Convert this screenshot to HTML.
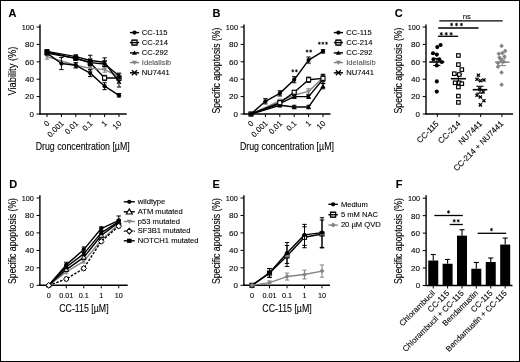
<!DOCTYPE html>
<html><head><meta charset="utf-8"><style>
html,body{margin:0;padding:0;background:#fff;overflow:hidden;}
svg{display:block;font-family:"Liberation Sans", sans-serif;filter:blur(0.3px);}
text{stroke:currentColor;stroke-width:0.1px;}
</style></head><body>
<svg width="520" height="362" viewBox="0 0 520 362">
<rect width="520" height="362" fill="#fff"/>
<rect x="0.5" y="0.5" width="519" height="361" fill="none" stroke="#000" stroke-width="1"/>
<text x="8.60" y="16.70" font-size="11" text-anchor="start" fill="#000" color="#000" font-weight="bold">A</text>
<line x1="40.00" y1="24.50" x2="40.00" y2="114.60" stroke="#000" stroke-width="1.4"/>
<line x1="36.60" y1="114.00" x2="40.00" y2="114.00" stroke="#000" stroke-width="1"/>
<text x="34.00" y="116.85" font-size="7.9" text-anchor="end" fill="#000" color="#000" textLength="4.4" lengthAdjust="spacingAndGlyphs">0</text>
<line x1="36.60" y1="96.60" x2="40.00" y2="96.60" stroke="#000" stroke-width="1"/>
<text x="34.00" y="99.45" font-size="7.9" text-anchor="end" fill="#000" color="#000" textLength="9.0" lengthAdjust="spacingAndGlyphs">20</text>
<line x1="36.60" y1="79.20" x2="40.00" y2="79.20" stroke="#000" stroke-width="1"/>
<text x="34.00" y="82.05" font-size="7.9" text-anchor="end" fill="#000" color="#000" textLength="9.0" lengthAdjust="spacingAndGlyphs">40</text>
<line x1="36.60" y1="61.80" x2="40.00" y2="61.80" stroke="#000" stroke-width="1"/>
<text x="34.00" y="64.65" font-size="7.9" text-anchor="end" fill="#000" color="#000" textLength="9.0" lengthAdjust="spacingAndGlyphs">60</text>
<line x1="36.60" y1="44.40" x2="40.00" y2="44.40" stroke="#000" stroke-width="1"/>
<text x="34.00" y="47.25" font-size="7.9" text-anchor="end" fill="#000" color="#000" textLength="9.0" lengthAdjust="spacingAndGlyphs">80</text>
<line x1="36.60" y1="27.00" x2="40.00" y2="27.00" stroke="#000" stroke-width="1"/>
<text x="34.00" y="29.85" font-size="7.9" text-anchor="end" fill="#000" color="#000" textLength="12.2" lengthAdjust="spacingAndGlyphs">100</text>
<line x1="39.40" y1="114.00" x2="126.70" y2="114.00" stroke="#000" stroke-width="1.4"/>
<line x1="47.00" y1="114.00" x2="47.00" y2="117.00" stroke="#000" stroke-width="1"/>
<line x1="61.40" y1="114.00" x2="61.40" y2="117.00" stroke="#000" stroke-width="1"/>
<line x1="75.80" y1="114.00" x2="75.80" y2="117.00" stroke="#000" stroke-width="1"/>
<line x1="90.20" y1="114.00" x2="90.20" y2="117.00" stroke="#000" stroke-width="1"/>
<line x1="104.60" y1="114.00" x2="104.60" y2="117.00" stroke="#000" stroke-width="1"/>
<line x1="119.00" y1="114.00" x2="119.00" y2="117.00" stroke="#000" stroke-width="1"/>
<text x="50.00" y="123.80" font-size="7.9" text-anchor="end" fill="#000" color="#000" transform="rotate(-45 50.00 123.80)">0</text>
<text x="64.40" y="123.80" font-size="7.9" text-anchor="end" fill="#000" color="#000" transform="rotate(-45 64.40 123.80)">0.001</text>
<text x="78.80" y="123.80" font-size="7.9" text-anchor="end" fill="#000" color="#000" transform="rotate(-45 78.80 123.80)">0.01</text>
<text x="93.20" y="123.80" font-size="7.9" text-anchor="end" fill="#000" color="#000" transform="rotate(-45 93.20 123.80)">0.1</text>
<text x="107.60" y="123.80" font-size="7.9" text-anchor="end" fill="#000" color="#000" transform="rotate(-45 107.60 123.80)">1</text>
<text x="122.00" y="123.80" font-size="7.9" text-anchor="end" fill="#000" color="#000" transform="rotate(-45 122.00 123.80)">10</text>
<text x="82.70" y="149.70" font-size="10.3" text-anchor="middle" fill="#000" color="#000" textLength="94.0" lengthAdjust="spacingAndGlyphs">Drug concentration [µM]</text>
<text x="15.80" y="71.10" font-size="10" text-anchor="middle" fill="#000" color="#000" transform="rotate(-90 15.80 71.10)" textLength="49" lengthAdjust="spacingAndGlyphs">Viability (%)</text>
<polyline points="47.00,52.23 75.80,58.32 90.20,62.67 104.60,77.98 119.00,77.98" fill="none" stroke="#000" stroke-width="1.4" stroke-linejoin="round"/>
<line x1="47.00" y1="50.49" x2="47.00" y2="53.97" stroke="#000" stroke-width="1"/>
<line x1="44.80" y1="50.49" x2="49.20" y2="50.49" stroke="#000" stroke-width="1"/>
<line x1="44.80" y1="53.97" x2="49.20" y2="53.97" stroke="#000" stroke-width="1"/>
<line x1="75.80" y1="56.58" x2="75.80" y2="60.06" stroke="#000" stroke-width="1"/>
<line x1="73.60" y1="56.58" x2="78.00" y2="56.58" stroke="#000" stroke-width="1"/>
<line x1="73.60" y1="60.06" x2="78.00" y2="60.06" stroke="#000" stroke-width="1"/>
<line x1="90.20" y1="60.06" x2="90.20" y2="65.28" stroke="#000" stroke-width="1"/>
<line x1="88.00" y1="60.06" x2="92.40" y2="60.06" stroke="#000" stroke-width="1"/>
<line x1="88.00" y1="65.28" x2="92.40" y2="65.28" stroke="#000" stroke-width="1"/>
<line x1="104.60" y1="75.37" x2="104.60" y2="80.59" stroke="#000" stroke-width="1"/>
<line x1="102.40" y1="75.37" x2="106.80" y2="75.37" stroke="#000" stroke-width="1"/>
<line x1="102.40" y1="80.59" x2="106.80" y2="80.59" stroke="#000" stroke-width="1"/>
<line x1="119.00" y1="75.37" x2="119.00" y2="80.59" stroke="#000" stroke-width="1"/>
<line x1="116.80" y1="75.37" x2="121.20" y2="75.37" stroke="#000" stroke-width="1"/>
<line x1="116.80" y1="80.59" x2="121.20" y2="80.59" stroke="#000" stroke-width="1"/>
<rect x="44.98" y="50.21" width="4.05" height="4.05" fill="#fff" stroke="#000" stroke-width="1.1"/>
<rect x="73.78" y="56.30" width="4.05" height="4.05" fill="#fff" stroke="#000" stroke-width="1.1"/>
<rect x="88.18" y="60.65" width="4.05" height="4.05" fill="#fff" stroke="#000" stroke-width="1.1"/>
<rect x="102.58" y="75.96" width="4.05" height="4.05" fill="#fff" stroke="#000" stroke-width="1.1"/>
<rect x="116.98" y="75.96" width="4.05" height="4.05" fill="#fff" stroke="#000" stroke-width="1.1"/>
<polyline points="47.00,56.58 75.80,65.28 90.20,68.33 104.60,69.63 119.00,76.59" fill="none" stroke="#848484" stroke-width="1.4" stroke-linejoin="round"/>
<line x1="47.00" y1="53.97" x2="47.00" y2="59.19" stroke="#848484" stroke-width="1"/>
<line x1="44.80" y1="53.97" x2="49.20" y2="53.97" stroke="#848484" stroke-width="1"/>
<line x1="44.80" y1="59.19" x2="49.20" y2="59.19" stroke="#848484" stroke-width="1"/>
<line x1="75.80" y1="62.67" x2="75.80" y2="67.89" stroke="#848484" stroke-width="1"/>
<line x1="73.60" y1="62.67" x2="78.00" y2="62.67" stroke="#848484" stroke-width="1"/>
<line x1="73.60" y1="67.89" x2="78.00" y2="67.89" stroke="#848484" stroke-width="1"/>
<line x1="90.20" y1="65.72" x2="90.20" y2="70.94" stroke="#848484" stroke-width="1"/>
<line x1="88.00" y1="65.72" x2="92.40" y2="65.72" stroke="#848484" stroke-width="1"/>
<line x1="88.00" y1="70.94" x2="92.40" y2="70.94" stroke="#848484" stroke-width="1"/>
<line x1="104.60" y1="67.02" x2="104.60" y2="72.24" stroke="#848484" stroke-width="1"/>
<line x1="102.40" y1="67.02" x2="106.80" y2="67.02" stroke="#848484" stroke-width="1"/>
<line x1="102.40" y1="72.24" x2="106.80" y2="72.24" stroke="#848484" stroke-width="1"/>
<line x1="119.00" y1="73.98" x2="119.00" y2="79.20" stroke="#848484" stroke-width="1"/>
<line x1="116.80" y1="73.98" x2="121.20" y2="73.98" stroke="#848484" stroke-width="1"/>
<line x1="116.80" y1="79.20" x2="121.20" y2="79.20" stroke="#848484" stroke-width="1"/>
<polygon points="47.00,59.04 49.46,54.86 44.54,54.86" fill="#848484"/>
<polygon points="75.80,67.74 78.26,63.56 73.34,63.56" fill="#848484"/>
<polygon points="90.20,70.79 92.66,66.60 87.74,66.60" fill="#848484"/>
<polygon points="104.60,72.09 107.06,67.91 102.14,67.91" fill="#848484"/>
<polygon points="119.00,79.05 121.46,74.87 116.54,74.87" fill="#848484"/>
<polyline points="47.00,51.36 75.80,56.58 90.20,60.49 104.60,62.23 119.00,81.81" fill="none" stroke="#000" stroke-width="1.4" stroke-linejoin="round"/>
<line x1="47.00" y1="49.62" x2="47.00" y2="53.10" stroke="#000" stroke-width="1"/>
<line x1="44.80" y1="49.62" x2="49.20" y2="49.62" stroke="#000" stroke-width="1"/>
<line x1="44.80" y1="53.10" x2="49.20" y2="53.10" stroke="#000" stroke-width="1"/>
<line x1="75.80" y1="54.84" x2="75.80" y2="58.32" stroke="#000" stroke-width="1"/>
<line x1="73.60" y1="54.84" x2="78.00" y2="54.84" stroke="#000" stroke-width="1"/>
<line x1="73.60" y1="58.32" x2="78.00" y2="58.32" stroke="#000" stroke-width="1"/>
<line x1="90.20" y1="55.27" x2="90.20" y2="65.72" stroke="#000" stroke-width="1"/>
<line x1="88.00" y1="55.27" x2="92.40" y2="55.27" stroke="#000" stroke-width="1"/>
<line x1="88.00" y1="65.72" x2="92.40" y2="65.72" stroke="#000" stroke-width="1"/>
<line x1="104.60" y1="57.88" x2="104.60" y2="66.58" stroke="#000" stroke-width="1"/>
<line x1="102.40" y1="57.88" x2="106.80" y2="57.88" stroke="#000" stroke-width="1"/>
<line x1="102.40" y1="66.58" x2="106.80" y2="66.58" stroke="#000" stroke-width="1"/>
<line x1="119.00" y1="76.59" x2="119.00" y2="87.03" stroke="#000" stroke-width="1"/>
<line x1="116.80" y1="76.59" x2="121.20" y2="76.59" stroke="#000" stroke-width="1"/>
<line x1="116.80" y1="87.03" x2="121.20" y2="87.03" stroke="#000" stroke-width="1"/>
<path d="M45.06,49.42L48.94,53.30M48.94,49.42L45.06,53.30" stroke="#000" stroke-width="1.3"/>
<path d="M73.86,54.64L77.74,58.52M77.74,54.64L73.86,58.52" stroke="#000" stroke-width="1.3"/>
<path d="M88.26,58.56L92.14,62.43M92.14,58.56L88.26,62.43" stroke="#000" stroke-width="1.3"/>
<path d="M102.66,60.30L106.54,64.17M106.54,60.30L102.66,64.17" stroke="#000" stroke-width="1.3"/>
<path d="M117.06,79.87L120.94,83.75M120.94,79.87L117.06,83.75" stroke="#000" stroke-width="1.3"/>
<polyline points="47.00,53.10 75.80,58.32 90.20,62.67 104.60,63.98 119.00,75.72" fill="none" stroke="#000" stroke-width="1.4" stroke-linejoin="round"/>
<line x1="47.00" y1="51.36" x2="47.00" y2="54.84" stroke="#000" stroke-width="1"/>
<line x1="44.80" y1="51.36" x2="49.20" y2="51.36" stroke="#000" stroke-width="1"/>
<line x1="44.80" y1="54.84" x2="49.20" y2="54.84" stroke="#000" stroke-width="1"/>
<line x1="75.80" y1="56.58" x2="75.80" y2="60.06" stroke="#000" stroke-width="1"/>
<line x1="73.60" y1="56.58" x2="78.00" y2="56.58" stroke="#000" stroke-width="1"/>
<line x1="73.60" y1="60.06" x2="78.00" y2="60.06" stroke="#000" stroke-width="1"/>
<line x1="90.20" y1="60.06" x2="90.20" y2="65.28" stroke="#000" stroke-width="1"/>
<line x1="88.00" y1="60.06" x2="92.40" y2="60.06" stroke="#000" stroke-width="1"/>
<line x1="88.00" y1="65.28" x2="92.40" y2="65.28" stroke="#000" stroke-width="1"/>
<line x1="104.60" y1="61.37" x2="104.60" y2="66.59" stroke="#000" stroke-width="1"/>
<line x1="102.40" y1="61.37" x2="106.80" y2="61.37" stroke="#000" stroke-width="1"/>
<line x1="102.40" y1="66.59" x2="106.80" y2="66.59" stroke="#000" stroke-width="1"/>
<line x1="119.00" y1="73.11" x2="119.00" y2="78.33" stroke="#000" stroke-width="1"/>
<line x1="116.80" y1="73.11" x2="121.20" y2="73.11" stroke="#000" stroke-width="1"/>
<line x1="116.80" y1="78.33" x2="121.20" y2="78.33" stroke="#000" stroke-width="1"/>
<polygon points="47.00,50.64 49.46,54.82 44.54,54.82" fill="#000"/>
<polygon points="75.80,55.86 78.26,60.04 73.34,60.04" fill="#000"/>
<polygon points="90.20,60.21 92.66,64.39 87.74,64.39" fill="#000"/>
<polygon points="104.60,61.51 107.06,65.70 102.14,65.70" fill="#000"/>
<polygon points="119.00,73.26 121.46,77.44 116.54,77.44" fill="#000"/>
<polyline points="47.00,53.10 61.40,63.54 75.80,65.28 90.20,73.11 104.60,86.16 119.00,95.30" fill="none" stroke="#000" stroke-width="1.4" stroke-linejoin="round"/>
<line x1="47.00" y1="51.36" x2="47.00" y2="54.84" stroke="#000" stroke-width="1"/>
<line x1="44.80" y1="51.36" x2="49.20" y2="51.36" stroke="#000" stroke-width="1"/>
<line x1="44.80" y1="54.84" x2="49.20" y2="54.84" stroke="#000" stroke-width="1"/>
<line x1="61.40" y1="57.45" x2="61.40" y2="69.63" stroke="#000" stroke-width="1"/>
<line x1="59.20" y1="57.45" x2="63.60" y2="57.45" stroke="#000" stroke-width="1"/>
<line x1="59.20" y1="69.63" x2="63.60" y2="69.63" stroke="#000" stroke-width="1"/>
<line x1="75.80" y1="62.67" x2="75.80" y2="67.89" stroke="#000" stroke-width="1"/>
<line x1="73.60" y1="62.67" x2="78.00" y2="62.67" stroke="#000" stroke-width="1"/>
<line x1="73.60" y1="67.89" x2="78.00" y2="67.89" stroke="#000" stroke-width="1"/>
<line x1="90.20" y1="69.63" x2="90.20" y2="76.59" stroke="#000" stroke-width="1"/>
<line x1="88.00" y1="69.63" x2="92.40" y2="69.63" stroke="#000" stroke-width="1"/>
<line x1="88.00" y1="76.59" x2="92.40" y2="76.59" stroke="#000" stroke-width="1"/>
<line x1="104.60" y1="82.68" x2="104.60" y2="89.64" stroke="#000" stroke-width="1"/>
<line x1="102.40" y1="82.68" x2="106.80" y2="82.68" stroke="#000" stroke-width="1"/>
<line x1="102.40" y1="89.64" x2="106.80" y2="89.64" stroke="#000" stroke-width="1"/>
<line x1="119.00" y1="93.56" x2="119.00" y2="97.03" stroke="#000" stroke-width="1"/>
<line x1="116.80" y1="93.56" x2="121.20" y2="93.56" stroke="#000" stroke-width="1"/>
<line x1="116.80" y1="97.03" x2="121.20" y2="97.03" stroke="#000" stroke-width="1"/>
<circle cx="47.00" cy="53.10" r="2.11" fill="#000"/>
<circle cx="61.40" cy="63.54" r="2.11" fill="#000"/>
<circle cx="75.80" cy="65.28" r="2.11" fill="#000"/>
<circle cx="90.20" cy="73.11" r="2.11" fill="#000"/>
<circle cx="104.60" cy="86.16" r="2.11" fill="#000"/>
<circle cx="119.00" cy="95.30" r="2.11" fill="#000"/>
<line x1="129.90" y1="32.60" x2="139.10" y2="32.60" stroke="#000" stroke-width="1.4"/>
<circle cx="134.50" cy="32.60" r="2.16" fill="#000"/>
<text x="141.80" y="34.90" font-size="7.6" text-anchor="start" fill="#000" color="#000">CC-115</text>
<line x1="129.90" y1="42.60" x2="139.10" y2="42.60" stroke="#000" stroke-width="1.4"/>
<rect x="131.90" y="40.20" width="5.2" height="4.8" fill="none" stroke="#000" stroke-width="1.2"/>
<line x1="131.90" y1="40.00" x2="137.10" y2="40.00" stroke="#000" stroke-width="0.8"/>
<line x1="131.90" y1="45.20" x2="137.10" y2="45.20" stroke="#000" stroke-width="0.8"/>
<text x="141.80" y="44.90" font-size="7.6" text-anchor="start" fill="#000" color="#000">CC-214</text>
<line x1="129.90" y1="52.90" x2="139.10" y2="52.90" stroke="#000" stroke-width="1.4"/>
<polygon points="134.50,50.38 137.02,54.66 131.98,54.66" fill="#000"/>
<text x="141.80" y="55.20" font-size="7.6" text-anchor="start" fill="#000" color="#000">CC-292</text>
<line x1="129.90" y1="62.60" x2="139.10" y2="62.60" stroke="#848484" stroke-width="1.4"/>
<polygon points="134.50,65.12 137.02,60.84 131.98,60.84" fill="#848484"/>
<text x="141.80" y="64.90" font-size="7.6" text-anchor="start" fill="#555" color="#555">Idelalisib</text>
<line x1="129.90" y1="72.80" x2="139.10" y2="72.80" stroke="#000" stroke-width="1.4"/>
<path d="M131.97,70.27L137.03,75.33M137.03,70.27L131.97,75.33" stroke="#000" stroke-width="1.3"/>
<text x="141.80" y="75.10" font-size="7.6" text-anchor="start" fill="#000" color="#000">NU7441</text>
<text x="212.40" y="16.70" font-size="11" text-anchor="start" fill="#000" color="#000" font-weight="bold">B</text>
<line x1="244.00" y1="24.50" x2="244.00" y2="114.60" stroke="#000" stroke-width="1.4"/>
<line x1="240.60" y1="114.00" x2="244.00" y2="114.00" stroke="#000" stroke-width="1"/>
<text x="238.00" y="116.85" font-size="7.9" text-anchor="end" fill="#000" color="#000" textLength="4.4" lengthAdjust="spacingAndGlyphs">0</text>
<line x1="240.60" y1="96.60" x2="244.00" y2="96.60" stroke="#000" stroke-width="1"/>
<text x="238.00" y="99.45" font-size="7.9" text-anchor="end" fill="#000" color="#000" textLength="9.0" lengthAdjust="spacingAndGlyphs">20</text>
<line x1="240.60" y1="79.20" x2="244.00" y2="79.20" stroke="#000" stroke-width="1"/>
<text x="238.00" y="82.05" font-size="7.9" text-anchor="end" fill="#000" color="#000" textLength="9.0" lengthAdjust="spacingAndGlyphs">40</text>
<line x1="240.60" y1="61.80" x2="244.00" y2="61.80" stroke="#000" stroke-width="1"/>
<text x="238.00" y="64.65" font-size="7.9" text-anchor="end" fill="#000" color="#000" textLength="9.0" lengthAdjust="spacingAndGlyphs">60</text>
<line x1="240.60" y1="44.40" x2="244.00" y2="44.40" stroke="#000" stroke-width="1"/>
<text x="238.00" y="47.25" font-size="7.9" text-anchor="end" fill="#000" color="#000" textLength="9.0" lengthAdjust="spacingAndGlyphs">80</text>
<line x1="240.60" y1="27.00" x2="244.00" y2="27.00" stroke="#000" stroke-width="1"/>
<text x="238.00" y="29.85" font-size="7.9" text-anchor="end" fill="#000" color="#000" textLength="12.2" lengthAdjust="spacingAndGlyphs">100</text>
<line x1="243.40" y1="114.00" x2="330.50" y2="114.00" stroke="#000" stroke-width="1.4"/>
<line x1="251.00" y1="114.00" x2="251.00" y2="117.00" stroke="#000" stroke-width="1"/>
<line x1="265.40" y1="114.00" x2="265.40" y2="117.00" stroke="#000" stroke-width="1"/>
<line x1="279.80" y1="114.00" x2="279.80" y2="117.00" stroke="#000" stroke-width="1"/>
<line x1="294.20" y1="114.00" x2="294.20" y2="117.00" stroke="#000" stroke-width="1"/>
<line x1="308.60" y1="114.00" x2="308.60" y2="117.00" stroke="#000" stroke-width="1"/>
<line x1="323.00" y1="114.00" x2="323.00" y2="117.00" stroke="#000" stroke-width="1"/>
<text x="254.00" y="123.80" font-size="7.9" text-anchor="end" fill="#000" color="#000" transform="rotate(-45 254.00 123.80)">0</text>
<text x="268.40" y="123.80" font-size="7.9" text-anchor="end" fill="#000" color="#000" transform="rotate(-45 268.40 123.80)">0.001</text>
<text x="282.80" y="123.80" font-size="7.9" text-anchor="end" fill="#000" color="#000" transform="rotate(-45 282.80 123.80)">0.01</text>
<text x="297.20" y="123.80" font-size="7.9" text-anchor="end" fill="#000" color="#000" transform="rotate(-45 297.20 123.80)">0.1</text>
<text x="311.60" y="123.80" font-size="7.9" text-anchor="end" fill="#000" color="#000" transform="rotate(-45 311.60 123.80)">1</text>
<text x="326.00" y="123.80" font-size="7.9" text-anchor="end" fill="#000" color="#000" transform="rotate(-45 326.00 123.80)">10</text>
<text x="286.90" y="149.70" font-size="10.3" text-anchor="middle" fill="#000" color="#000" textLength="94.0" lengthAdjust="spacingAndGlyphs">Drug concentration [µM]</text>
<text x="220.20" y="70.50" font-size="10" text-anchor="middle" fill="#000" color="#000" transform="rotate(-90 220.20 70.50)" textLength="86" lengthAdjust="spacingAndGlyphs">Specific apoptosis (%)</text>
<polyline points="251.00,114.00 279.80,100.95 294.20,95.12 308.60,91.38 323.00,77.46" fill="none" stroke="#848484" stroke-width="1.4" stroke-linejoin="round"/>
<line x1="279.80" y1="99.21" x2="279.80" y2="102.69" stroke="#848484" stroke-width="1"/>
<line x1="277.60" y1="99.21" x2="282.00" y2="99.21" stroke="#848484" stroke-width="1"/>
<line x1="277.60" y1="102.69" x2="282.00" y2="102.69" stroke="#848484" stroke-width="1"/>
<line x1="294.20" y1="92.51" x2="294.20" y2="97.73" stroke="#848484" stroke-width="1"/>
<line x1="292.00" y1="92.51" x2="296.40" y2="92.51" stroke="#848484" stroke-width="1"/>
<line x1="292.00" y1="97.73" x2="296.40" y2="97.73" stroke="#848484" stroke-width="1"/>
<line x1="308.60" y1="88.77" x2="308.60" y2="93.99" stroke="#848484" stroke-width="1"/>
<line x1="306.40" y1="88.77" x2="310.80" y2="88.77" stroke="#848484" stroke-width="1"/>
<line x1="306.40" y1="93.99" x2="310.80" y2="93.99" stroke="#848484" stroke-width="1"/>
<line x1="323.00" y1="73.98" x2="323.00" y2="80.94" stroke="#848484" stroke-width="1"/>
<line x1="320.80" y1="73.98" x2="325.20" y2="73.98" stroke="#848484" stroke-width="1"/>
<line x1="320.80" y1="80.94" x2="325.20" y2="80.94" stroke="#848484" stroke-width="1"/>
<polygon points="251.00,116.46 253.46,112.28 248.54,112.28" fill="#848484"/>
<polygon points="279.80,103.41 282.26,99.23 277.34,99.23" fill="#848484"/>
<polygon points="294.20,97.59 296.66,93.40 291.74,93.40" fill="#848484"/>
<polygon points="308.60,93.84 311.06,89.66 306.14,89.66" fill="#848484"/>
<polygon points="323.00,79.92 325.46,75.74 320.54,75.74" fill="#848484"/>
<polyline points="251.00,114.00 279.80,103.56 294.20,96.60 308.60,96.60 323.00,79.20" fill="none" stroke="#000" stroke-width="1.4" stroke-linejoin="round"/>
<line x1="279.80" y1="101.82" x2="279.80" y2="105.30" stroke="#000" stroke-width="1"/>
<line x1="277.60" y1="101.82" x2="282.00" y2="101.82" stroke="#000" stroke-width="1"/>
<line x1="277.60" y1="105.30" x2="282.00" y2="105.30" stroke="#000" stroke-width="1"/>
<line x1="294.20" y1="94.86" x2="294.20" y2="98.34" stroke="#000" stroke-width="1"/>
<line x1="292.00" y1="94.86" x2="296.40" y2="94.86" stroke="#000" stroke-width="1"/>
<line x1="292.00" y1="98.34" x2="296.40" y2="98.34" stroke="#000" stroke-width="1"/>
<line x1="308.60" y1="94.86" x2="308.60" y2="98.34" stroke="#000" stroke-width="1"/>
<line x1="306.40" y1="94.86" x2="310.80" y2="94.86" stroke="#000" stroke-width="1"/>
<line x1="306.40" y1="98.34" x2="310.80" y2="98.34" stroke="#000" stroke-width="1"/>
<line x1="323.00" y1="74.85" x2="323.00" y2="83.55" stroke="#000" stroke-width="1"/>
<line x1="320.80" y1="74.85" x2="325.20" y2="74.85" stroke="#000" stroke-width="1"/>
<line x1="320.80" y1="83.55" x2="325.20" y2="83.55" stroke="#000" stroke-width="1"/>
<path d="M249.06,112.06L252.94,115.94M252.94,112.06L249.06,115.94" stroke="#000" stroke-width="1.3"/>
<path d="M277.86,101.62L281.74,105.50M281.74,101.62L277.86,105.50" stroke="#000" stroke-width="1.3"/>
<path d="M292.26,94.66L296.14,98.54M296.14,94.66L292.26,98.54" stroke="#000" stroke-width="1.3"/>
<path d="M306.66,94.66L310.54,98.54M310.54,94.66L306.66,98.54" stroke="#000" stroke-width="1.3"/>
<path d="M321.06,77.26L324.94,81.14M324.94,77.26L321.06,81.14" stroke="#000" stroke-width="1.3"/>
<polyline points="251.00,114.00 279.80,105.30 294.20,107.04 308.60,107.04 323.00,86.16" fill="none" stroke="#000" stroke-width="1.4" stroke-linejoin="round"/>
<line x1="279.80" y1="103.56" x2="279.80" y2="107.04" stroke="#000" stroke-width="1"/>
<line x1="277.60" y1="103.56" x2="282.00" y2="103.56" stroke="#000" stroke-width="1"/>
<line x1="277.60" y1="107.04" x2="282.00" y2="107.04" stroke="#000" stroke-width="1"/>
<line x1="294.20" y1="105.30" x2="294.20" y2="108.78" stroke="#000" stroke-width="1"/>
<line x1="292.00" y1="105.30" x2="296.40" y2="105.30" stroke="#000" stroke-width="1"/>
<line x1="292.00" y1="108.78" x2="296.40" y2="108.78" stroke="#000" stroke-width="1"/>
<line x1="308.60" y1="105.30" x2="308.60" y2="108.78" stroke="#000" stroke-width="1"/>
<line x1="306.40" y1="105.30" x2="310.80" y2="105.30" stroke="#000" stroke-width="1"/>
<line x1="306.40" y1="108.78" x2="310.80" y2="108.78" stroke="#000" stroke-width="1"/>
<line x1="323.00" y1="83.55" x2="323.00" y2="88.77" stroke="#000" stroke-width="1"/>
<line x1="320.80" y1="83.55" x2="325.20" y2="83.55" stroke="#000" stroke-width="1"/>
<line x1="320.80" y1="88.77" x2="325.20" y2="88.77" stroke="#000" stroke-width="1"/>
<polygon points="251.00,111.54 253.46,115.72 248.54,115.72" fill="#000"/>
<polygon points="279.80,102.84 282.26,107.02 277.34,107.02" fill="#000"/>
<polygon points="294.20,104.58 296.66,108.76 291.74,108.76" fill="#000"/>
<polygon points="308.60,104.58 311.06,108.76 306.14,108.76" fill="#000"/>
<polygon points="323.00,83.70 325.46,87.88 320.54,87.88" fill="#000"/>
<polyline points="251.00,114.00 279.80,102.69 294.20,92.25 308.60,79.72 323.00,78.33" fill="none" stroke="#000" stroke-width="1.4" stroke-linejoin="round"/>
<line x1="279.80" y1="100.95" x2="279.80" y2="104.43" stroke="#000" stroke-width="1"/>
<line x1="277.60" y1="100.95" x2="282.00" y2="100.95" stroke="#000" stroke-width="1"/>
<line x1="277.60" y1="104.43" x2="282.00" y2="104.43" stroke="#000" stroke-width="1"/>
<line x1="294.20" y1="90.51" x2="294.20" y2="93.99" stroke="#000" stroke-width="1"/>
<line x1="292.00" y1="90.51" x2="296.40" y2="90.51" stroke="#000" stroke-width="1"/>
<line x1="292.00" y1="93.99" x2="296.40" y2="93.99" stroke="#000" stroke-width="1"/>
<line x1="308.60" y1="77.11" x2="308.60" y2="82.33" stroke="#000" stroke-width="1"/>
<line x1="306.40" y1="77.11" x2="310.80" y2="77.11" stroke="#000" stroke-width="1"/>
<line x1="306.40" y1="82.33" x2="310.80" y2="82.33" stroke="#000" stroke-width="1"/>
<line x1="323.00" y1="74.85" x2="323.00" y2="81.81" stroke="#000" stroke-width="1"/>
<line x1="320.80" y1="74.85" x2="325.20" y2="74.85" stroke="#000" stroke-width="1"/>
<line x1="320.80" y1="81.81" x2="325.20" y2="81.81" stroke="#000" stroke-width="1"/>
<rect x="248.98" y="111.98" width="4.05" height="4.05" fill="#fff" stroke="#000" stroke-width="1.1"/>
<rect x="277.78" y="100.67" width="4.05" height="4.05" fill="#fff" stroke="#000" stroke-width="1.1"/>
<rect x="292.18" y="90.23" width="4.05" height="4.05" fill="#fff" stroke="#000" stroke-width="1.1"/>
<rect x="306.58" y="77.70" width="4.05" height="4.05" fill="#fff" stroke="#000" stroke-width="1.1"/>
<rect x="320.98" y="76.31" width="4.05" height="4.05" fill="#fff" stroke="#000" stroke-width="1.1"/>
<polyline points="251.00,114.00 265.40,101.30 279.80,93.38 294.20,79.72 308.60,60.06 323.00,51.36" fill="none" stroke="#000" stroke-width="1.4" stroke-linejoin="round"/>
<line x1="265.40" y1="98.69" x2="265.40" y2="103.91" stroke="#000" stroke-width="1"/>
<line x1="263.20" y1="98.69" x2="267.60" y2="98.69" stroke="#000" stroke-width="1"/>
<line x1="263.20" y1="103.91" x2="267.60" y2="103.91" stroke="#000" stroke-width="1"/>
<line x1="279.80" y1="90.77" x2="279.80" y2="95.99" stroke="#000" stroke-width="1"/>
<line x1="277.60" y1="90.77" x2="282.00" y2="90.77" stroke="#000" stroke-width="1"/>
<line x1="277.60" y1="95.99" x2="282.00" y2="95.99" stroke="#000" stroke-width="1"/>
<line x1="294.20" y1="76.68" x2="294.20" y2="82.77" stroke="#000" stroke-width="1"/>
<line x1="292.00" y1="76.68" x2="296.40" y2="76.68" stroke="#000" stroke-width="1"/>
<line x1="292.00" y1="82.77" x2="296.40" y2="82.77" stroke="#000" stroke-width="1"/>
<line x1="308.60" y1="57.02" x2="308.60" y2="63.11" stroke="#000" stroke-width="1"/>
<line x1="306.40" y1="57.02" x2="310.80" y2="57.02" stroke="#000" stroke-width="1"/>
<line x1="306.40" y1="63.11" x2="310.80" y2="63.11" stroke="#000" stroke-width="1"/>
<line x1="323.00" y1="49.62" x2="323.00" y2="53.10" stroke="#000" stroke-width="1"/>
<line x1="320.80" y1="49.62" x2="325.20" y2="49.62" stroke="#000" stroke-width="1"/>
<line x1="320.80" y1="53.10" x2="325.20" y2="53.10" stroke="#000" stroke-width="1"/>
<circle cx="251.00" cy="114.00" r="2.11" fill="#000"/>
<circle cx="265.40" cy="101.30" r="2.11" fill="#000"/>
<circle cx="279.80" cy="93.38" r="2.11" fill="#000"/>
<circle cx="294.20" cy="79.72" r="2.11" fill="#000"/>
<circle cx="308.60" cy="60.06" r="2.11" fill="#000"/>
<circle cx="323.00" cy="51.36" r="2.11" fill="#000"/>
<path d="M292.80,69.65L292.80,71.95M291.81,70.23L293.79,71.37M291.81,71.37L293.79,70.23" stroke="#000" stroke-width="0.72" stroke-linecap="round"/>
<circle cx="292.80" cy="70.80" r="0.51" fill="#000"/>
<path d="M296.40,69.65L296.40,71.95M295.41,70.23L297.39,71.37M295.41,71.37L297.39,70.23" stroke="#000" stroke-width="0.72" stroke-linecap="round"/>
<circle cx="296.40" cy="70.80" r="0.51" fill="#000"/>
<path d="M307.05,49.95L307.05,52.25M306.06,50.53L308.04,51.67M306.06,51.67L308.04,50.53" stroke="#000" stroke-width="0.72" stroke-linecap="round"/>
<circle cx="307.05" cy="51.10" r="0.51" fill="#000"/>
<path d="M310.65,49.95L310.65,52.25M309.66,50.53L311.64,51.67M309.66,51.67L311.64,50.53" stroke="#000" stroke-width="0.72" stroke-linecap="round"/>
<circle cx="310.65" cy="51.10" r="0.51" fill="#000"/>
<path d="M319.30,42.10L319.30,44.40M318.31,42.68L320.29,43.82M318.31,43.82L320.29,42.68" stroke="#000" stroke-width="0.72" stroke-linecap="round"/>
<circle cx="319.30" cy="43.25" r="0.51" fill="#000"/>
<path d="M322.90,42.10L322.90,44.40M321.91,42.68L323.89,43.82M321.91,43.82L323.89,42.68" stroke="#000" stroke-width="0.72" stroke-linecap="round"/>
<circle cx="322.90" cy="43.25" r="0.51" fill="#000"/>
<path d="M326.50,42.10L326.50,44.40M325.51,42.68L327.49,43.82M325.51,43.82L327.49,42.68" stroke="#000" stroke-width="0.72" stroke-linecap="round"/>
<circle cx="326.50" cy="43.25" r="0.51" fill="#000"/>
<line x1="333.80" y1="32.60" x2="343.00" y2="32.60" stroke="#000" stroke-width="1.4"/>
<circle cx="338.40" cy="32.60" r="2.16" fill="#000"/>
<text x="346.20" y="34.90" font-size="7.6" text-anchor="start" fill="#000" color="#000">CC-115</text>
<line x1="333.80" y1="42.60" x2="343.00" y2="42.60" stroke="#000" stroke-width="1.4"/>
<rect x="335.80" y="40.20" width="5.2" height="4.8" fill="none" stroke="#000" stroke-width="1.2"/>
<line x1="335.80" y1="40.00" x2="341.00" y2="40.00" stroke="#000" stroke-width="0.8"/>
<line x1="335.80" y1="45.20" x2="341.00" y2="45.20" stroke="#000" stroke-width="0.8"/>
<text x="346.20" y="44.90" font-size="7.6" text-anchor="start" fill="#000" color="#000">CC-214</text>
<line x1="333.80" y1="52.90" x2="343.00" y2="52.90" stroke="#000" stroke-width="1.4"/>
<polygon points="338.40,50.38 340.92,54.66 335.88,54.66" fill="#000"/>
<text x="346.20" y="55.20" font-size="7.6" text-anchor="start" fill="#000" color="#000">CC-292</text>
<line x1="333.80" y1="62.60" x2="343.00" y2="62.60" stroke="#848484" stroke-width="1.4"/>
<polygon points="338.40,65.12 340.92,60.84 335.88,60.84" fill="#848484"/>
<text x="346.20" y="64.90" font-size="7.6" text-anchor="start" fill="#555" color="#555">Idelalisib</text>
<line x1="333.80" y1="72.80" x2="343.00" y2="72.80" stroke="#000" stroke-width="1.4"/>
<path d="M335.87,70.27L340.93,75.33M340.93,70.27L335.87,75.33" stroke="#000" stroke-width="1.3"/>
<text x="346.20" y="75.10" font-size="7.6" text-anchor="start" fill="#000" color="#000">NU7441</text>
<text x="394.80" y="16.70" font-size="11" text-anchor="start" fill="#000" color="#000" font-weight="bold">C</text>
<line x1="426.00" y1="24.50" x2="426.00" y2="114.60" stroke="#000" stroke-width="1.4"/>
<line x1="422.60" y1="114.00" x2="426.00" y2="114.00" stroke="#000" stroke-width="1"/>
<text x="420.00" y="116.85" font-size="7.9" text-anchor="end" fill="#000" color="#000" textLength="4.4" lengthAdjust="spacingAndGlyphs">0</text>
<line x1="422.60" y1="96.60" x2="426.00" y2="96.60" stroke="#000" stroke-width="1"/>
<text x="420.00" y="99.45" font-size="7.9" text-anchor="end" fill="#000" color="#000" textLength="9.0" lengthAdjust="spacingAndGlyphs">20</text>
<line x1="422.60" y1="79.20" x2="426.00" y2="79.20" stroke="#000" stroke-width="1"/>
<text x="420.00" y="82.05" font-size="7.9" text-anchor="end" fill="#000" color="#000" textLength="9.0" lengthAdjust="spacingAndGlyphs">40</text>
<line x1="422.60" y1="61.80" x2="426.00" y2="61.80" stroke="#000" stroke-width="1"/>
<text x="420.00" y="64.65" font-size="7.9" text-anchor="end" fill="#000" color="#000" textLength="9.0" lengthAdjust="spacingAndGlyphs">60</text>
<line x1="422.60" y1="44.40" x2="426.00" y2="44.40" stroke="#000" stroke-width="1"/>
<text x="420.00" y="47.25" font-size="7.9" text-anchor="end" fill="#000" color="#000" textLength="9.0" lengthAdjust="spacingAndGlyphs">80</text>
<line x1="422.60" y1="27.00" x2="426.00" y2="27.00" stroke="#000" stroke-width="1"/>
<text x="420.00" y="29.85" font-size="7.9" text-anchor="end" fill="#000" color="#000" textLength="12.2" lengthAdjust="spacingAndGlyphs">100</text>
<line x1="425.40" y1="114.00" x2="513.00" y2="114.00" stroke="#000" stroke-width="1.4"/>
<line x1="437.30" y1="114.00" x2="437.30" y2="117.00" stroke="#000" stroke-width="1"/>
<line x1="459.10" y1="114.00" x2="459.10" y2="117.00" stroke="#000" stroke-width="1"/>
<line x1="480.70" y1="114.00" x2="480.70" y2="117.00" stroke="#000" stroke-width="1"/>
<line x1="501.90" y1="114.00" x2="501.90" y2="117.00" stroke="#000" stroke-width="1"/>
<text x="439.30" y="124.30" font-size="8.1" text-anchor="end" fill="#000" color="#000" transform="rotate(-45 439.30 124.30)">CC-115</text>
<text x="461.10" y="124.30" font-size="8.1" text-anchor="end" fill="#000" color="#000" transform="rotate(-45 461.10 124.30)">CC-214</text>
<text x="482.70" y="124.30" font-size="8.1" text-anchor="end" fill="#000" color="#000" transform="rotate(-45 482.70 124.30)">NU7441</text>
<text x="503.90" y="124.30" font-size="8.1" text-anchor="end" fill="#000" color="#000" transform="rotate(-45 503.90 124.30)">CC-214 + NU7441</text>
<text x="401.60" y="70.50" font-size="10" text-anchor="middle" fill="#000" color="#000" transform="rotate(-90 401.60 70.50)" textLength="86" lengthAdjust="spacingAndGlyphs">Specific apoptosis (%)</text>
<line x1="439.30" y1="20.80" x2="502.60" y2="20.80" stroke="#000" stroke-width="1.3"/>
<text x="466.90" y="18.70" font-size="7.8" text-anchor="middle" fill="#000" color="#000">ns</text>
<line x1="438.20" y1="28.00" x2="478.60" y2="28.00" stroke="#000" stroke-width="1.3"/>
<path d="M451.60,23.15L451.60,25.85M450.43,23.82L452.77,25.18M450.43,25.18L452.77,23.82" stroke="#000" stroke-width="0.85" stroke-linecap="round"/>
<circle cx="451.60" cy="24.50" r="0.60" fill="#000"/>
<path d="M456.50,23.15L456.50,25.85M455.33,23.82L457.67,25.18M455.33,25.18L457.67,23.82" stroke="#000" stroke-width="0.85" stroke-linecap="round"/>
<circle cx="456.50" cy="24.50" r="0.60" fill="#000"/>
<path d="M461.40,23.15L461.40,25.85M460.23,23.82L462.57,25.18M460.23,25.18L462.57,23.82" stroke="#000" stroke-width="0.85" stroke-linecap="round"/>
<circle cx="461.40" cy="24.50" r="0.60" fill="#000"/>
<line x1="437.90" y1="36.30" x2="458.20" y2="36.30" stroke="#000" stroke-width="1.3"/>
<path d="M441.30,32.45L441.30,35.15M440.13,33.12L442.47,34.47M440.13,34.47L442.47,33.12" stroke="#000" stroke-width="0.85" stroke-linecap="round"/>
<circle cx="441.30" cy="33.80" r="0.60" fill="#000"/>
<path d="M446.20,32.45L446.20,35.15M445.03,33.12L447.37,34.47M445.03,34.47L447.37,33.12" stroke="#000" stroke-width="0.85" stroke-linecap="round"/>
<circle cx="446.20" cy="33.80" r="0.60" fill="#000"/>
<path d="M451.10,32.45L451.10,35.15M449.93,33.12L452.27,34.47M449.93,34.47L452.27,33.12" stroke="#000" stroke-width="0.85" stroke-linecap="round"/>
<circle cx="451.10" cy="33.80" r="0.60" fill="#000"/>
<line x1="429.30" y1="62.00" x2="444.30" y2="62.00" stroke="#000" stroke-width="1.6"/>
<line x1="436.80" y1="58.50" x2="436.80" y2="65.50" stroke="#000" stroke-width="1.1"/>
<line x1="433.20" y1="58.50" x2="440.40" y2="58.50" stroke="#000" stroke-width="1.1"/>
<line x1="433.20" y1="65.50" x2="440.40" y2="65.50" stroke="#000" stroke-width="1.1"/>
<line x1="450.90" y1="78.70" x2="465.90" y2="78.70" stroke="#000" stroke-width="1.6"/>
<line x1="458.40" y1="74.70" x2="458.40" y2="82.70" stroke="#000" stroke-width="1.1"/>
<line x1="454.80" y1="74.70" x2="462.00" y2="74.70" stroke="#000" stroke-width="1.1"/>
<line x1="454.80" y1="82.70" x2="462.00" y2="82.70" stroke="#000" stroke-width="1.1"/>
<line x1="472.70" y1="89.70" x2="487.30" y2="89.70" stroke="#000" stroke-width="1.6"/>
<line x1="480.00" y1="86.30" x2="480.00" y2="93.10" stroke="#000" stroke-width="1.1"/>
<line x1="476.40" y1="86.30" x2="483.60" y2="86.30" stroke="#000" stroke-width="1.1"/>
<line x1="476.40" y1="93.10" x2="483.60" y2="93.10" stroke="#000" stroke-width="1.1"/>
<line x1="495.10" y1="62.20" x2="509.50" y2="62.20" stroke="#848484" stroke-width="1.6"/>
<line x1="502.30" y1="58.80" x2="502.30" y2="65.60" stroke="#848484" stroke-width="1.1"/>
<line x1="498.70" y1="58.80" x2="505.90" y2="58.80" stroke="#848484" stroke-width="1.1"/>
<line x1="498.70" y1="65.60" x2="505.90" y2="65.60" stroke="#848484" stroke-width="1.1"/>
<circle cx="440.60" cy="45.00" r="2.04" fill="#000"/>
<circle cx="437.30" cy="47.10" r="2.04" fill="#000"/>
<circle cx="433.00" cy="53.30" r="2.04" fill="#000"/>
<circle cx="436.80" cy="54.60" r="2.04" fill="#000"/>
<circle cx="433.50" cy="59.20" r="2.04" fill="#000"/>
<circle cx="439.30" cy="59.20" r="2.04" fill="#000"/>
<circle cx="441.80" cy="62.00" r="2.04" fill="#000"/>
<circle cx="436.80" cy="65.40" r="2.04" fill="#000"/>
<circle cx="436.80" cy="81.40" r="2.04" fill="#000"/>
<circle cx="436.80" cy="91.60" r="2.04" fill="#000"/>
<rect x="456.65" y="53.75" width="3.5" height="3.5" fill="#fff" stroke="#000" stroke-width="1.15"/>
<rect x="456.65" y="62.85" width="3.5" height="3.5" fill="#fff" stroke="#000" stroke-width="1.15"/>
<rect x="460.05" y="67.85" width="3.5" height="3.5" fill="#fff" stroke="#000" stroke-width="1.15"/>
<rect x="452.55" y="71.95" width="3.5" height="3.5" fill="#fff" stroke="#000" stroke-width="1.15"/>
<rect x="457.55" y="72.75" width="3.5" height="3.5" fill="#fff" stroke="#000" stroke-width="1.15"/>
<rect x="453.35" y="81.05" width="3.5" height="3.5" fill="#fff" stroke="#000" stroke-width="1.15"/>
<rect x="457.55" y="81.05" width="3.5" height="3.5" fill="#fff" stroke="#000" stroke-width="1.15"/>
<rect x="460.05" y="81.95" width="3.5" height="3.5" fill="#fff" stroke="#000" stroke-width="1.15"/>
<rect x="456.65" y="85.25" width="3.5" height="3.5" fill="#fff" stroke="#000" stroke-width="1.15"/>
<rect x="456.65" y="94.35" width="3.5" height="3.5" fill="#fff" stroke="#000" stroke-width="1.15"/>
<rect x="456.65" y="100.65" width="3.5" height="3.5" fill="#fff" stroke="#000" stroke-width="1.15"/>
<path d="M476.82,73.62L479.98,76.78M479.98,73.62L476.82,76.78" stroke="#000" stroke-width="1.3"/>
<path d="M475.42,77.72L478.58,80.88M478.58,77.72L475.42,80.88" stroke="#000" stroke-width="1.3"/>
<path d="M478.82,79.12L481.98,82.28M481.98,79.12L478.82,82.28" stroke="#000" stroke-width="1.3"/>
<path d="M482.32,78.42L485.48,81.58M485.48,78.42L482.32,81.58" stroke="#000" stroke-width="1.3"/>
<path d="M478.12,87.42L481.28,90.58M481.28,87.42L478.12,90.58" stroke="#000" stroke-width="1.3"/>
<path d="M481.62,90.22L484.78,93.38M484.78,90.22L481.62,93.38" stroke="#000" stroke-width="1.3"/>
<path d="M475.42,93.62L478.58,96.78M478.58,93.62L475.42,96.78" stroke="#000" stroke-width="1.3"/>
<path d="M478.82,95.42L481.98,98.58M481.98,95.42L478.82,98.58" stroke="#000" stroke-width="1.3"/>
<path d="M482.32,99.12L485.48,102.28M485.48,99.12L482.32,102.28" stroke="#000" stroke-width="1.3"/>
<path d="M478.82,103.32L481.98,106.48M481.98,103.32L478.82,106.48" stroke="#000" stroke-width="1.3"/>
<polygon points="504.50,54.20 506.80,56.50 504.50,58.80 502.20,56.50" fill="#848484"/>
<polygon points="499.50,55.20 501.80,57.50 499.50,59.80 497.20,57.50" fill="#848484"/>
<polygon points="501.60,43.60 503.90,45.90 501.60,48.20 499.30,45.90" fill="#848484"/>
<polygon points="505.20,48.60 507.50,50.90 505.20,53.20 502.90,50.90" fill="#848484"/>
<polygon points="502.40,50.80 504.70,53.10 502.40,55.40 500.10,53.10" fill="#848484"/>
<polygon points="498.80,51.50 501.10,53.80 498.80,56.10 496.50,53.80" fill="#848484"/>
<polygon points="500.90,57.30 503.20,59.60 500.90,61.90 498.60,59.60" fill="#848484"/>
<polygon points="503.80,59.40 506.10,61.70 503.80,64.00 501.50,61.70" fill="#848484"/>
<polygon points="498.00,60.80 500.30,63.10 498.00,65.40 495.70,63.10" fill="#848484"/>
<polygon points="498.00,64.40 500.30,66.70 498.00,69.00 495.70,66.70" fill="#848484"/>
<polygon points="501.60,70.20 503.90,72.50 501.60,74.80 499.30,72.50" fill="#848484"/>
<polygon points="501.60,82.40 503.90,84.70 501.60,87.00 499.30,84.70" fill="#848484"/>
<text x="9.30" y="187.60" font-size="11" text-anchor="start" fill="#000" color="#000" font-weight="bold">D</text>
<line x1="39.90" y1="195.30" x2="39.90" y2="285.90" stroke="#000" stroke-width="1.4"/>
<line x1="36.50" y1="285.30" x2="39.90" y2="285.30" stroke="#000" stroke-width="1"/>
<text x="33.90" y="288.15" font-size="7.9" text-anchor="end" fill="#000" color="#000" textLength="4.4" lengthAdjust="spacingAndGlyphs">0</text>
<line x1="36.50" y1="267.84" x2="39.90" y2="267.84" stroke="#000" stroke-width="1"/>
<text x="33.90" y="270.69" font-size="7.9" text-anchor="end" fill="#000" color="#000" textLength="9.0" lengthAdjust="spacingAndGlyphs">20</text>
<line x1="36.50" y1="250.38" x2="39.90" y2="250.38" stroke="#000" stroke-width="1"/>
<text x="33.90" y="253.23" font-size="7.9" text-anchor="end" fill="#000" color="#000" textLength="9.0" lengthAdjust="spacingAndGlyphs">40</text>
<line x1="36.50" y1="232.92" x2="39.90" y2="232.92" stroke="#000" stroke-width="1"/>
<text x="33.90" y="235.77" font-size="7.9" text-anchor="end" fill="#000" color="#000" textLength="9.0" lengthAdjust="spacingAndGlyphs">60</text>
<line x1="36.50" y1="215.46" x2="39.90" y2="215.46" stroke="#000" stroke-width="1"/>
<text x="33.90" y="218.31" font-size="7.9" text-anchor="end" fill="#000" color="#000" textLength="9.0" lengthAdjust="spacingAndGlyphs">80</text>
<line x1="36.50" y1="198.00" x2="39.90" y2="198.00" stroke="#000" stroke-width="1"/>
<text x="33.90" y="200.85" font-size="7.9" text-anchor="end" fill="#000" color="#000" textLength="12.2" lengthAdjust="spacingAndGlyphs">100</text>
<line x1="39.30" y1="285.30" x2="127.70" y2="285.30" stroke="#000" stroke-width="1.4"/>
<line x1="48.75" y1="285.30" x2="48.75" y2="288.30" stroke="#000" stroke-width="1"/>
<line x1="66.25" y1="285.30" x2="66.25" y2="288.30" stroke="#000" stroke-width="1"/>
<line x1="83.75" y1="285.30" x2="83.75" y2="288.30" stroke="#000" stroke-width="1"/>
<line x1="101.25" y1="285.30" x2="101.25" y2="288.30" stroke="#000" stroke-width="1"/>
<line x1="118.75" y1="285.30" x2="118.75" y2="288.30" stroke="#000" stroke-width="1"/>
<text x="48.75" y="298.10" font-size="8.0" text-anchor="middle" fill="#000" color="#000" textLength="4.06" lengthAdjust="spacingAndGlyphs">0</text>
<text x="66.25" y="298.10" font-size="8.0" text-anchor="middle" fill="#000" color="#000" textLength="14.2" lengthAdjust="spacingAndGlyphs">0.01</text>
<text x="83.75" y="298.10" font-size="8.0" text-anchor="middle" fill="#000" color="#000" textLength="10.1" lengthAdjust="spacingAndGlyphs">0.1</text>
<text x="101.25" y="298.10" font-size="8.0" text-anchor="middle" fill="#000" color="#000" textLength="4.06" lengthAdjust="spacingAndGlyphs">1</text>
<text x="118.75" y="298.10" font-size="8.0" text-anchor="middle" fill="#000" color="#000" textLength="8.1" lengthAdjust="spacingAndGlyphs">10</text>
<text x="83.90" y="311.70" font-size="10.5" text-anchor="middle" fill="#000" color="#000" textLength="49.4" lengthAdjust="spacingAndGlyphs">CC-115 [µM]</text>
<text x="15.60" y="241.00" font-size="10" text-anchor="middle" fill="#000" color="#000" transform="rotate(-90 15.60 241.00)" textLength="86" lengthAdjust="spacingAndGlyphs">Specific apoptosis (%)</text>
<polyline points="48.75,285.30 66.25,271.94 83.75,261.29 101.25,240.25 118.75,224.19" fill="none" stroke="#848484" stroke-width="1.4" stroke-linejoin="round"/>
<line x1="66.25" y1="270.20" x2="66.25" y2="273.69" stroke="#848484" stroke-width="1"/>
<line x1="64.05" y1="270.20" x2="68.45" y2="270.20" stroke="#848484" stroke-width="1"/>
<line x1="64.05" y1="273.69" x2="68.45" y2="273.69" stroke="#848484" stroke-width="1"/>
<line x1="83.75" y1="259.55" x2="83.75" y2="263.04" stroke="#848484" stroke-width="1"/>
<line x1="81.55" y1="259.55" x2="85.95" y2="259.55" stroke="#848484" stroke-width="1"/>
<line x1="81.55" y1="263.04" x2="85.95" y2="263.04" stroke="#848484" stroke-width="1"/>
<line x1="101.25" y1="238.51" x2="101.25" y2="242.00" stroke="#848484" stroke-width="1"/>
<line x1="99.05" y1="238.51" x2="103.45" y2="238.51" stroke="#848484" stroke-width="1"/>
<line x1="99.05" y1="242.00" x2="103.45" y2="242.00" stroke="#848484" stroke-width="1"/>
<line x1="118.75" y1="222.44" x2="118.75" y2="225.94" stroke="#848484" stroke-width="1"/>
<line x1="116.55" y1="222.44" x2="120.95" y2="222.44" stroke="#848484" stroke-width="1"/>
<line x1="116.55" y1="225.94" x2="120.95" y2="225.94" stroke="#848484" stroke-width="1"/>
<polygon points="48.75,287.76 51.21,283.58 46.29,283.58" fill="#848484"/>
<polygon points="66.25,274.41 68.71,270.22 63.79,270.22" fill="#848484"/>
<polygon points="83.75,263.76 86.21,259.57 81.29,259.57" fill="#848484"/>
<polygon points="101.25,242.72 103.71,238.53 98.79,238.53" fill="#848484"/>
<polygon points="118.75,226.65 121.21,222.47 116.29,222.47" fill="#848484"/>
<polyline points="48.75,285.30 66.25,269.59 83.75,257.36 101.25,235.54 118.75,222.44" fill="none" stroke="#000" stroke-width="1.4" stroke-linejoin="round"/>
<line x1="66.25" y1="267.84" x2="66.25" y2="271.33" stroke="#000" stroke-width="1"/>
<line x1="64.05" y1="267.84" x2="68.45" y2="267.84" stroke="#000" stroke-width="1"/>
<line x1="64.05" y1="271.33" x2="68.45" y2="271.33" stroke="#000" stroke-width="1"/>
<line x1="83.75" y1="255.62" x2="83.75" y2="259.11" stroke="#000" stroke-width="1"/>
<line x1="81.55" y1="255.62" x2="85.95" y2="255.62" stroke="#000" stroke-width="1"/>
<line x1="81.55" y1="259.11" x2="85.95" y2="259.11" stroke="#000" stroke-width="1"/>
<line x1="101.25" y1="233.79" x2="101.25" y2="237.29" stroke="#000" stroke-width="1"/>
<line x1="99.05" y1="233.79" x2="103.45" y2="233.79" stroke="#000" stroke-width="1"/>
<line x1="99.05" y1="237.29" x2="103.45" y2="237.29" stroke="#000" stroke-width="1"/>
<line x1="118.75" y1="220.70" x2="118.75" y2="224.19" stroke="#000" stroke-width="1"/>
<line x1="116.55" y1="220.70" x2="120.95" y2="220.70" stroke="#000" stroke-width="1"/>
<line x1="116.55" y1="224.19" x2="120.95" y2="224.19" stroke="#000" stroke-width="1"/>
<polygon points="48.75,282.84 51.21,287.02 46.29,287.02" fill="#fff" stroke="#000" stroke-width="1"/>
<polygon points="66.25,267.12 68.71,271.31 63.79,271.31" fill="#fff" stroke="#000" stroke-width="1"/>
<polygon points="83.75,254.90 86.21,259.09 81.29,259.09" fill="#fff" stroke="#000" stroke-width="1"/>
<polygon points="101.25,233.08 103.71,237.26 98.79,237.26" fill="#fff" stroke="#000" stroke-width="1"/>
<polygon points="118.75,219.98 121.21,224.17 116.29,224.17" fill="#fff" stroke="#000" stroke-width="1"/>
<polyline points="48.75,285.30 66.25,266.97 83.75,253.87 101.25,232.92 118.75,221.57" fill="none" stroke="#000" stroke-width="1.4" stroke-linejoin="round"/>
<line x1="66.25" y1="265.22" x2="66.25" y2="268.71" stroke="#000" stroke-width="1"/>
<line x1="64.05" y1="265.22" x2="68.45" y2="265.22" stroke="#000" stroke-width="1"/>
<line x1="64.05" y1="268.71" x2="68.45" y2="268.71" stroke="#000" stroke-width="1"/>
<line x1="83.75" y1="252.13" x2="83.75" y2="255.62" stroke="#000" stroke-width="1"/>
<line x1="81.55" y1="252.13" x2="85.95" y2="252.13" stroke="#000" stroke-width="1"/>
<line x1="81.55" y1="255.62" x2="85.95" y2="255.62" stroke="#000" stroke-width="1"/>
<line x1="101.25" y1="231.17" x2="101.25" y2="234.67" stroke="#000" stroke-width="1"/>
<line x1="99.05" y1="231.17" x2="103.45" y2="231.17" stroke="#000" stroke-width="1"/>
<line x1="99.05" y1="234.67" x2="103.45" y2="234.67" stroke="#000" stroke-width="1"/>
<line x1="118.75" y1="219.83" x2="118.75" y2="223.32" stroke="#000" stroke-width="1"/>
<line x1="116.55" y1="219.83" x2="120.95" y2="219.83" stroke="#000" stroke-width="1"/>
<line x1="116.55" y1="223.32" x2="120.95" y2="223.32" stroke="#000" stroke-width="1"/>
<rect x="46.91" y="283.46" width="3.68" height="3.68" fill="#000"/>
<rect x="64.41" y="265.13" width="3.68" height="3.68" fill="#000"/>
<rect x="81.91" y="252.03" width="3.68" height="3.68" fill="#000"/>
<rect x="99.41" y="231.08" width="3.68" height="3.68" fill="#000"/>
<rect x="116.91" y="219.73" width="3.68" height="3.68" fill="#000"/>
<polyline points="48.75,285.30 66.25,264.87 83.75,249.59 101.25,228.56 118.75,220.35" fill="none" stroke="#000" stroke-width="1.4" stroke-linejoin="round"/>
<line x1="66.25" y1="262.25" x2="66.25" y2="267.49" stroke="#000" stroke-width="1"/>
<line x1="64.05" y1="262.25" x2="68.45" y2="262.25" stroke="#000" stroke-width="1"/>
<line x1="64.05" y1="267.49" x2="68.45" y2="267.49" stroke="#000" stroke-width="1"/>
<line x1="83.75" y1="246.98" x2="83.75" y2="252.21" stroke="#000" stroke-width="1"/>
<line x1="81.55" y1="246.98" x2="85.95" y2="246.98" stroke="#000" stroke-width="1"/>
<line x1="81.55" y1="252.21" x2="85.95" y2="252.21" stroke="#000" stroke-width="1"/>
<line x1="101.25" y1="226.81" x2="101.25" y2="230.30" stroke="#000" stroke-width="1"/>
<line x1="99.05" y1="226.81" x2="103.45" y2="226.81" stroke="#000" stroke-width="1"/>
<line x1="99.05" y1="230.30" x2="103.45" y2="230.30" stroke="#000" stroke-width="1"/>
<line x1="118.75" y1="215.98" x2="118.75" y2="224.71" stroke="#000" stroke-width="1"/>
<line x1="116.55" y1="215.98" x2="120.95" y2="215.98" stroke="#000" stroke-width="1"/>
<line x1="116.55" y1="224.71" x2="120.95" y2="224.71" stroke="#000" stroke-width="1"/>
<circle cx="48.75" cy="285.30" r="2.11" fill="#000"/>
<circle cx="66.25" cy="264.87" r="2.11" fill="#000"/>
<circle cx="83.75" cy="249.59" r="2.11" fill="#000"/>
<circle cx="101.25" cy="228.56" r="2.11" fill="#000"/>
<circle cx="118.75" cy="220.35" r="2.11" fill="#000"/>
<polyline points="48.75,285.30 66.25,279.01 83.75,268.36 101.25,241.39 118.75,226.11" fill="none" stroke="#000" stroke-width="1.4" stroke-linejoin="round" stroke-dasharray="2.5,1.5"/>
<line x1="66.25" y1="277.27" x2="66.25" y2="280.76" stroke="#000" stroke-width="1"/>
<line x1="64.05" y1="277.27" x2="68.45" y2="277.27" stroke="#000" stroke-width="1"/>
<line x1="64.05" y1="280.76" x2="68.45" y2="280.76" stroke="#000" stroke-width="1"/>
<line x1="83.75" y1="266.62" x2="83.75" y2="270.11" stroke="#000" stroke-width="1"/>
<line x1="81.55" y1="266.62" x2="85.95" y2="266.62" stroke="#000" stroke-width="1"/>
<line x1="81.55" y1="270.11" x2="85.95" y2="270.11" stroke="#000" stroke-width="1"/>
<line x1="101.25" y1="239.64" x2="101.25" y2="243.13" stroke="#000" stroke-width="1"/>
<line x1="99.05" y1="239.64" x2="103.45" y2="239.64" stroke="#000" stroke-width="1"/>
<line x1="99.05" y1="243.13" x2="103.45" y2="243.13" stroke="#000" stroke-width="1"/>
<line x1="118.75" y1="224.36" x2="118.75" y2="227.86" stroke="#000" stroke-width="1"/>
<line x1="116.55" y1="224.36" x2="120.95" y2="224.36" stroke="#000" stroke-width="1"/>
<line x1="116.55" y1="227.86" x2="120.95" y2="227.86" stroke="#000" stroke-width="1"/>
<polygon points="48.75,282.50 51.55,285.30 48.75,288.10 45.95,285.30" fill="#fff" stroke="#000" stroke-width="1"/>
<polygon points="66.25,276.21 69.05,279.01 66.25,281.81 63.45,279.01" fill="#fff" stroke="#000" stroke-width="1"/>
<polygon points="83.75,265.56 86.55,268.36 83.75,271.16 80.95,268.36" fill="#fff" stroke="#000" stroke-width="1"/>
<polygon points="101.25,238.59 104.05,241.39 101.25,244.19 98.45,241.39" fill="#fff" stroke="#000" stroke-width="1"/>
<polygon points="118.75,223.31 121.55,226.11 118.75,228.91 115.95,226.11" fill="#fff" stroke="#000" stroke-width="1"/>
<line x1="123.80" y1="201.80" x2="134.80" y2="201.80" stroke="#000" stroke-width="1.4"/>
<circle cx="129.30" cy="201.80" r="2.16" fill="#000"/>
<text x="137.80" y="204.10" font-size="7.6" text-anchor="start" fill="#000" color="#000">wildtype</text>
<line x1="123.80" y1="211.80" x2="134.80" y2="211.80" stroke="#000" stroke-width="1.4"/>
<polygon points="129.30,208.90 132.34,213.98 126.26,213.98" fill="#fff" stroke="#000" stroke-width="1.1"/>
<text x="137.80" y="214.10" font-size="7.6" text-anchor="start" fill="#000" color="#000">ATM mutated</text>
<line x1="123.80" y1="221.50" x2="134.80" y2="221.50" stroke="#848484" stroke-width="1.4"/>
<polygon points="129.30,224.02 131.82,219.74 126.78,219.74" fill="#848484"/>
<text x="137.80" y="223.80" font-size="7.6" text-anchor="start" fill="#000" color="#000">p53 mutated</text>
<line x1="123.80" y1="231.10" x2="134.80" y2="231.10" stroke="#000" stroke-width="1.4" stroke-dasharray="2,1.3"/>
<polygon points="129.30,228.30 132.10,231.10 129.30,233.90 126.50,231.10" fill="#fff" stroke="#000" stroke-width="1.1"/>
<text x="137.80" y="233.40" font-size="7.6" text-anchor="start" fill="#000" color="#000">SF3B1 mutated</text>
<line x1="123.80" y1="240.80" x2="134.80" y2="240.80" stroke="#000" stroke-width="1.4"/>
<rect x="127.00" y="238.70" width="4.6" height="4.2" fill="#000"/>
<text x="137.80" y="243.10" font-size="7.6" text-anchor="start" fill="#000" color="#000">NOTCH1 mutated</text>
<text x="212.60" y="187.60" font-size="11" text-anchor="start" fill="#000" color="#000" font-weight="bold">E</text>
<line x1="243.90" y1="195.30" x2="243.90" y2="285.90" stroke="#000" stroke-width="1.4"/>
<line x1="240.50" y1="285.30" x2="243.90" y2="285.30" stroke="#000" stroke-width="1"/>
<text x="237.90" y="288.15" font-size="7.9" text-anchor="end" fill="#000" color="#000" textLength="4.4" lengthAdjust="spacingAndGlyphs">0</text>
<line x1="240.50" y1="267.84" x2="243.90" y2="267.84" stroke="#000" stroke-width="1"/>
<text x="237.90" y="270.69" font-size="7.9" text-anchor="end" fill="#000" color="#000" textLength="9.0" lengthAdjust="spacingAndGlyphs">20</text>
<line x1="240.50" y1="250.38" x2="243.90" y2="250.38" stroke="#000" stroke-width="1"/>
<text x="237.90" y="253.23" font-size="7.9" text-anchor="end" fill="#000" color="#000" textLength="9.0" lengthAdjust="spacingAndGlyphs">40</text>
<line x1="240.50" y1="232.92" x2="243.90" y2="232.92" stroke="#000" stroke-width="1"/>
<text x="237.90" y="235.77" font-size="7.9" text-anchor="end" fill="#000" color="#000" textLength="9.0" lengthAdjust="spacingAndGlyphs">60</text>
<line x1="240.50" y1="215.46" x2="243.90" y2="215.46" stroke="#000" stroke-width="1"/>
<text x="237.90" y="218.31" font-size="7.9" text-anchor="end" fill="#000" color="#000" textLength="9.0" lengthAdjust="spacingAndGlyphs">80</text>
<line x1="240.50" y1="198.00" x2="243.90" y2="198.00" stroke="#000" stroke-width="1"/>
<text x="237.90" y="200.85" font-size="7.9" text-anchor="end" fill="#000" color="#000" textLength="12.2" lengthAdjust="spacingAndGlyphs">100</text>
<line x1="243.30" y1="285.30" x2="330.00" y2="285.30" stroke="#000" stroke-width="1.4"/>
<line x1="252.00" y1="285.30" x2="252.00" y2="288.30" stroke="#000" stroke-width="1"/>
<line x1="269.50" y1="285.30" x2="269.50" y2="288.30" stroke="#000" stroke-width="1"/>
<line x1="287.00" y1="285.30" x2="287.00" y2="288.30" stroke="#000" stroke-width="1"/>
<line x1="304.50" y1="285.30" x2="304.50" y2="288.30" stroke="#000" stroke-width="1"/>
<line x1="322.00" y1="285.30" x2="322.00" y2="288.30" stroke="#000" stroke-width="1"/>
<text x="252.00" y="298.10" font-size="8.0" text-anchor="middle" fill="#000" color="#000" textLength="4.06" lengthAdjust="spacingAndGlyphs">0</text>
<text x="269.50" y="298.10" font-size="8.0" text-anchor="middle" fill="#000" color="#000" textLength="14.2" lengthAdjust="spacingAndGlyphs">0.01</text>
<text x="287.00" y="298.10" font-size="8.0" text-anchor="middle" fill="#000" color="#000" textLength="10.1" lengthAdjust="spacingAndGlyphs">0.1</text>
<text x="304.50" y="298.10" font-size="8.0" text-anchor="middle" fill="#000" color="#000" textLength="4.06" lengthAdjust="spacingAndGlyphs">1</text>
<text x="322.00" y="298.10" font-size="8.0" text-anchor="middle" fill="#000" color="#000" textLength="8.1" lengthAdjust="spacingAndGlyphs">10</text>
<text x="287.00" y="311.70" font-size="10.5" text-anchor="middle" fill="#000" color="#000" textLength="49.4" lengthAdjust="spacingAndGlyphs">CC-115 [µM]</text>
<text x="220.20" y="241.00" font-size="10" text-anchor="middle" fill="#000" color="#000" transform="rotate(-90 220.20 241.00)" textLength="86" lengthAdjust="spacingAndGlyphs">Specific apoptosis (%)</text>
<polyline points="252.00,285.30 269.50,273.08 287.00,255.97 304.50,237.29 322.00,233.97" fill="none" stroke="#000" stroke-width="1.4" stroke-linejoin="round"/>
<line x1="269.50" y1="268.71" x2="269.50" y2="277.44" stroke="#000" stroke-width="1"/>
<line x1="267.30" y1="268.71" x2="271.70" y2="268.71" stroke="#000" stroke-width="1"/>
<line x1="267.30" y1="277.44" x2="271.70" y2="277.44" stroke="#000" stroke-width="1"/>
<line x1="287.00" y1="245.49" x2="287.00" y2="266.44" stroke="#000" stroke-width="1"/>
<line x1="284.80" y1="245.49" x2="289.20" y2="245.49" stroke="#000" stroke-width="1"/>
<line x1="284.80" y1="266.44" x2="289.20" y2="266.44" stroke="#000" stroke-width="1"/>
<line x1="304.50" y1="226.81" x2="304.50" y2="247.76" stroke="#000" stroke-width="1"/>
<line x1="302.30" y1="226.81" x2="306.70" y2="226.81" stroke="#000" stroke-width="1"/>
<line x1="302.30" y1="247.76" x2="306.70" y2="247.76" stroke="#000" stroke-width="1"/>
<line x1="322.00" y1="220.00" x2="322.00" y2="247.94" stroke="#000" stroke-width="1"/>
<line x1="319.80" y1="220.00" x2="324.20" y2="220.00" stroke="#000" stroke-width="1"/>
<line x1="319.80" y1="247.94" x2="324.20" y2="247.94" stroke="#000" stroke-width="1"/>
<rect x="249.98" y="283.28" width="4.05" height="4.05" fill="#fff" stroke="#000" stroke-width="1.1"/>
<rect x="267.48" y="271.05" width="4.05" height="4.05" fill="#fff" stroke="#000" stroke-width="1.1"/>
<rect x="284.98" y="253.94" width="4.05" height="4.05" fill="#fff" stroke="#000" stroke-width="1.1"/>
<rect x="302.48" y="235.26" width="4.05" height="4.05" fill="#fff" stroke="#000" stroke-width="1.1"/>
<rect x="319.98" y="231.94" width="4.05" height="4.05" fill="#fff" stroke="#000" stroke-width="1.1"/>
<polyline points="252.00,285.30 269.50,272.82 287.00,253.00 304.50,234.84 322.00,232.57" fill="none" stroke="#000" stroke-width="1.4" stroke-linejoin="round"/>
<line x1="269.50" y1="268.45" x2="269.50" y2="277.18" stroke="#000" stroke-width="1"/>
<line x1="267.30" y1="268.45" x2="271.70" y2="268.45" stroke="#000" stroke-width="1"/>
<line x1="267.30" y1="277.18" x2="271.70" y2="277.18" stroke="#000" stroke-width="1"/>
<line x1="287.00" y1="242.52" x2="287.00" y2="263.48" stroke="#000" stroke-width="1"/>
<line x1="284.80" y1="242.52" x2="289.20" y2="242.52" stroke="#000" stroke-width="1"/>
<line x1="284.80" y1="263.48" x2="289.20" y2="263.48" stroke="#000" stroke-width="1"/>
<line x1="304.50" y1="224.36" x2="304.50" y2="245.32" stroke="#000" stroke-width="1"/>
<line x1="302.30" y1="224.36" x2="306.70" y2="224.36" stroke="#000" stroke-width="1"/>
<line x1="302.30" y1="245.32" x2="306.70" y2="245.32" stroke="#000" stroke-width="1"/>
<line x1="322.00" y1="217.73" x2="322.00" y2="247.41" stroke="#000" stroke-width="1"/>
<line x1="319.80" y1="217.73" x2="324.20" y2="217.73" stroke="#000" stroke-width="1"/>
<line x1="319.80" y1="247.41" x2="324.20" y2="247.41" stroke="#000" stroke-width="1"/>
<circle cx="252.00" cy="285.30" r="2.11" fill="#000"/>
<circle cx="269.50" cy="272.82" r="2.11" fill="#000"/>
<circle cx="287.00" cy="253.00" r="2.11" fill="#000"/>
<circle cx="304.50" cy="234.84" r="2.11" fill="#000"/>
<circle cx="322.00" cy="232.57" r="2.11" fill="#000"/>
<polyline points="252.00,285.30 269.50,282.68 287.00,276.57 304.50,274.56 322.00,271.07" fill="none" stroke="#848484" stroke-width="1.4" stroke-linejoin="round"/>
<line x1="269.50" y1="280.94" x2="269.50" y2="284.43" stroke="#848484" stroke-width="1"/>
<line x1="267.30" y1="280.94" x2="271.70" y2="280.94" stroke="#848484" stroke-width="1"/>
<line x1="267.30" y1="284.43" x2="271.70" y2="284.43" stroke="#848484" stroke-width="1"/>
<line x1="287.00" y1="273.08" x2="287.00" y2="280.06" stroke="#848484" stroke-width="1"/>
<line x1="284.80" y1="273.08" x2="289.20" y2="273.08" stroke="#848484" stroke-width="1"/>
<line x1="284.80" y1="280.06" x2="289.20" y2="280.06" stroke="#848484" stroke-width="1"/>
<line x1="304.50" y1="270.20" x2="304.50" y2="278.93" stroke="#848484" stroke-width="1"/>
<line x1="302.30" y1="270.20" x2="306.70" y2="270.20" stroke="#848484" stroke-width="1"/>
<line x1="302.30" y1="278.93" x2="306.70" y2="278.93" stroke="#848484" stroke-width="1"/>
<line x1="322.00" y1="264.96" x2="322.00" y2="277.18" stroke="#848484" stroke-width="1"/>
<line x1="319.80" y1="264.96" x2="324.20" y2="264.96" stroke="#848484" stroke-width="1"/>
<line x1="319.80" y1="277.18" x2="324.20" y2="277.18" stroke="#848484" stroke-width="1"/>
<polygon points="252.00,282.84 254.46,285.30 252.00,287.76 249.54,285.30" fill="#848484"/>
<polygon points="269.50,280.22 271.96,282.68 269.50,285.15 267.04,282.68" fill="#848484"/>
<polygon points="287.00,274.11 289.46,276.57 287.00,279.03 284.54,276.57" fill="#848484"/>
<polygon points="304.50,272.10 306.96,274.56 304.50,277.03 302.04,274.56" fill="#848484"/>
<polygon points="322.00,268.61 324.46,271.07 322.00,273.53 319.54,271.07" fill="#848484"/>
<line x1="328.40" y1="204.30" x2="337.80" y2="204.30" stroke="#000" stroke-width="1.4"/>
<circle cx="333.10" cy="204.30" r="2.16" fill="#000"/>
<text x="340.90" y="206.60" font-size="7.6" text-anchor="start" fill="#000" color="#000">Medium</text>
<line x1="328.40" y1="214.70" x2="337.80" y2="214.70" stroke="#000" stroke-width="1.4"/>
<rect x="330.50" y="212.30" width="5.2" height="4.8" fill="none" stroke="#000" stroke-width="1.2"/>
<line x1="330.50" y1="212.10" x2="335.70" y2="212.10" stroke="#000" stroke-width="0.8"/>
<line x1="330.50" y1="217.30" x2="335.70" y2="217.30" stroke="#000" stroke-width="0.8"/>
<text x="340.90" y="217.00" font-size="7.6" text-anchor="start" fill="#000" color="#000">5 mM NAC</text>
<line x1="328.40" y1="225.10" x2="337.80" y2="225.10" stroke="#848484" stroke-width="1.4"/>
<polygon points="333.10,222.58 335.62,225.10 333.10,227.62 330.58,225.10" fill="#848484"/>
<text x="340.90" y="227.40" font-size="7.6" text-anchor="start" fill="#000" color="#000">20 µM QVD</text>
<text x="395.80" y="187.60" font-size="11" text-anchor="start" fill="#000" color="#000" font-weight="bold">F</text>
<line x1="426.10" y1="195.30" x2="426.10" y2="286.10" stroke="#000" stroke-width="1.4"/>
<line x1="422.70" y1="285.50" x2="426.10" y2="285.50" stroke="#000" stroke-width="1"/>
<text x="420.10" y="288.35" font-size="7.9" text-anchor="end" fill="#000" color="#000" textLength="4.4" lengthAdjust="spacingAndGlyphs">0</text>
<line x1="422.70" y1="268.04" x2="426.10" y2="268.04" stroke="#000" stroke-width="1"/>
<text x="420.10" y="270.89" font-size="7.9" text-anchor="end" fill="#000" color="#000" textLength="9.0" lengthAdjust="spacingAndGlyphs">20</text>
<line x1="422.70" y1="250.58" x2="426.10" y2="250.58" stroke="#000" stroke-width="1"/>
<text x="420.10" y="253.43" font-size="7.9" text-anchor="end" fill="#000" color="#000" textLength="9.0" lengthAdjust="spacingAndGlyphs">40</text>
<line x1="422.70" y1="233.12" x2="426.10" y2="233.12" stroke="#000" stroke-width="1"/>
<text x="420.10" y="235.97" font-size="7.9" text-anchor="end" fill="#000" color="#000" textLength="9.0" lengthAdjust="spacingAndGlyphs">60</text>
<line x1="422.70" y1="215.66" x2="426.10" y2="215.66" stroke="#000" stroke-width="1"/>
<text x="420.10" y="218.51" font-size="7.9" text-anchor="end" fill="#000" color="#000" textLength="9.0" lengthAdjust="spacingAndGlyphs">80</text>
<line x1="422.70" y1="198.20" x2="426.10" y2="198.20" stroke="#000" stroke-width="1"/>
<text x="420.10" y="201.05" font-size="7.9" text-anchor="end" fill="#000" color="#000" textLength="12.2" lengthAdjust="spacingAndGlyphs">100</text>
<line x1="425.50" y1="285.50" x2="512.50" y2="285.50" stroke="#000" stroke-width="1.4"/>
<line x1="433.25" y1="285.50" x2="433.25" y2="288.50" stroke="#000" stroke-width="1"/>
<line x1="447.60" y1="285.50" x2="447.60" y2="288.50" stroke="#000" stroke-width="1"/>
<line x1="462.00" y1="285.50" x2="462.00" y2="288.50" stroke="#000" stroke-width="1"/>
<line x1="476.30" y1="285.50" x2="476.30" y2="288.50" stroke="#000" stroke-width="1"/>
<line x1="490.75" y1="285.50" x2="490.75" y2="288.50" stroke="#000" stroke-width="1"/>
<line x1="505.20" y1="285.50" x2="505.20" y2="288.50" stroke="#000" stroke-width="1"/>
<text x="401.80" y="241.00" font-size="10" text-anchor="middle" fill="#000" color="#000" transform="rotate(-90 401.80 241.00)" textLength="86" lengthAdjust="spacingAndGlyphs">Specific apoptosis (%)</text>
<rect x="428.25" y="260.53" width="10" height="24.97" fill="#000"/>
<line x1="433.25" y1="260.53" x2="433.25" y2="254.51" stroke="#000" stroke-width="1.1"/>
<line x1="430.75" y1="254.51" x2="435.75" y2="254.51" stroke="#000" stroke-width="1.1"/>
<rect x="442.60" y="263.76" width="10" height="21.74" fill="#000"/>
<line x1="447.60" y1="263.76" x2="447.60" y2="259.48" stroke="#000" stroke-width="1.1"/>
<line x1="445.10" y1="259.48" x2="450.10" y2="259.48" stroke="#000" stroke-width="1.1"/>
<rect x="457.00" y="235.65" width="10" height="49.85" fill="#000"/>
<line x1="462.00" y1="235.65" x2="462.00" y2="229.72" stroke="#000" stroke-width="1.1"/>
<line x1="459.50" y1="229.72" x2="464.50" y2="229.72" stroke="#000" stroke-width="1.1"/>
<rect x="471.30" y="268.74" width="10" height="16.76" fill="#000"/>
<line x1="476.30" y1="268.74" x2="476.30" y2="262.45" stroke="#000" stroke-width="1.1"/>
<line x1="473.80" y1="262.45" x2="478.80" y2="262.45" stroke="#000" stroke-width="1.1"/>
<rect x="485.75" y="262.02" width="10" height="23.48" fill="#000"/>
<line x1="490.75" y1="262.02" x2="490.75" y2="258.00" stroke="#000" stroke-width="1.1"/>
<line x1="488.25" y1="258.00" x2="493.25" y2="258.00" stroke="#000" stroke-width="1.1"/>
<rect x="500.20" y="244.56" width="10" height="40.94" fill="#000"/>
<line x1="505.20" y1="244.56" x2="505.20" y2="238.10" stroke="#000" stroke-width="1.1"/>
<line x1="502.70" y1="238.10" x2="507.70" y2="238.10" stroke="#000" stroke-width="1.1"/>
<line x1="434.30" y1="215.50" x2="462.80" y2="215.50" stroke="#000" stroke-width="1.3"/>
<path d="M448.50,210.62L448.50,213.18M447.39,211.26L449.61,212.54M447.39,212.54L449.61,211.26" stroke="#000" stroke-width="0.81" stroke-linecap="round"/>
<circle cx="448.50" cy="211.90" r="0.57" fill="#000"/>
<line x1="449.70" y1="224.50" x2="462.80" y2="224.50" stroke="#000" stroke-width="1.3"/>
<path d="M454.20,219.52L454.20,222.08M453.09,220.16L455.31,221.44M453.09,221.44L455.31,220.16" stroke="#000" stroke-width="0.81" stroke-linecap="round"/>
<circle cx="454.20" cy="220.80" r="0.57" fill="#000"/>
<path d="M458.20,219.52L458.20,222.08M457.09,220.16L459.31,221.44M457.09,221.44L459.31,220.16" stroke="#000" stroke-width="0.81" stroke-linecap="round"/>
<circle cx="458.20" cy="220.80" r="0.57" fill="#000"/>
<line x1="477.70" y1="233.30" x2="506.20" y2="233.30" stroke="#000" stroke-width="1.3"/>
<path d="M491.50,228.32L491.50,230.88M490.39,228.96L492.61,230.24M490.39,230.24L492.61,228.96" stroke="#000" stroke-width="0.81" stroke-linecap="round"/>
<circle cx="491.50" cy="229.60" r="0.57" fill="#000"/>
<text x="435.55" y="293.60" font-size="8.0" text-anchor="end" fill="#000" color="#000" transform="rotate(-45 435.55 293.60)">Chlorambucil</text>
<text x="449.90" y="293.60" font-size="8.0" text-anchor="end" fill="#000" color="#000" transform="rotate(-45 449.90 293.60)">CC-115</text>
<text x="464.30" y="293.60" font-size="8.0" text-anchor="end" fill="#000" color="#000" transform="rotate(-45 464.30 293.60)">Chlorambucil + CC-115</text>
<text x="478.60" y="293.60" font-size="8.0" text-anchor="end" fill="#000" color="#000" transform="rotate(-45 478.60 293.60)">Bendamustin</text>
<text x="493.05" y="293.60" font-size="8.0" text-anchor="end" fill="#000" color="#000" transform="rotate(-45 493.05 293.60)">CC-115</text>
<text x="507.50" y="293.60" font-size="8.0" text-anchor="end" fill="#000" color="#000" transform="rotate(-45 507.50 293.60)">Bendamustin + CC-115</text>
</svg>
</body></html>
